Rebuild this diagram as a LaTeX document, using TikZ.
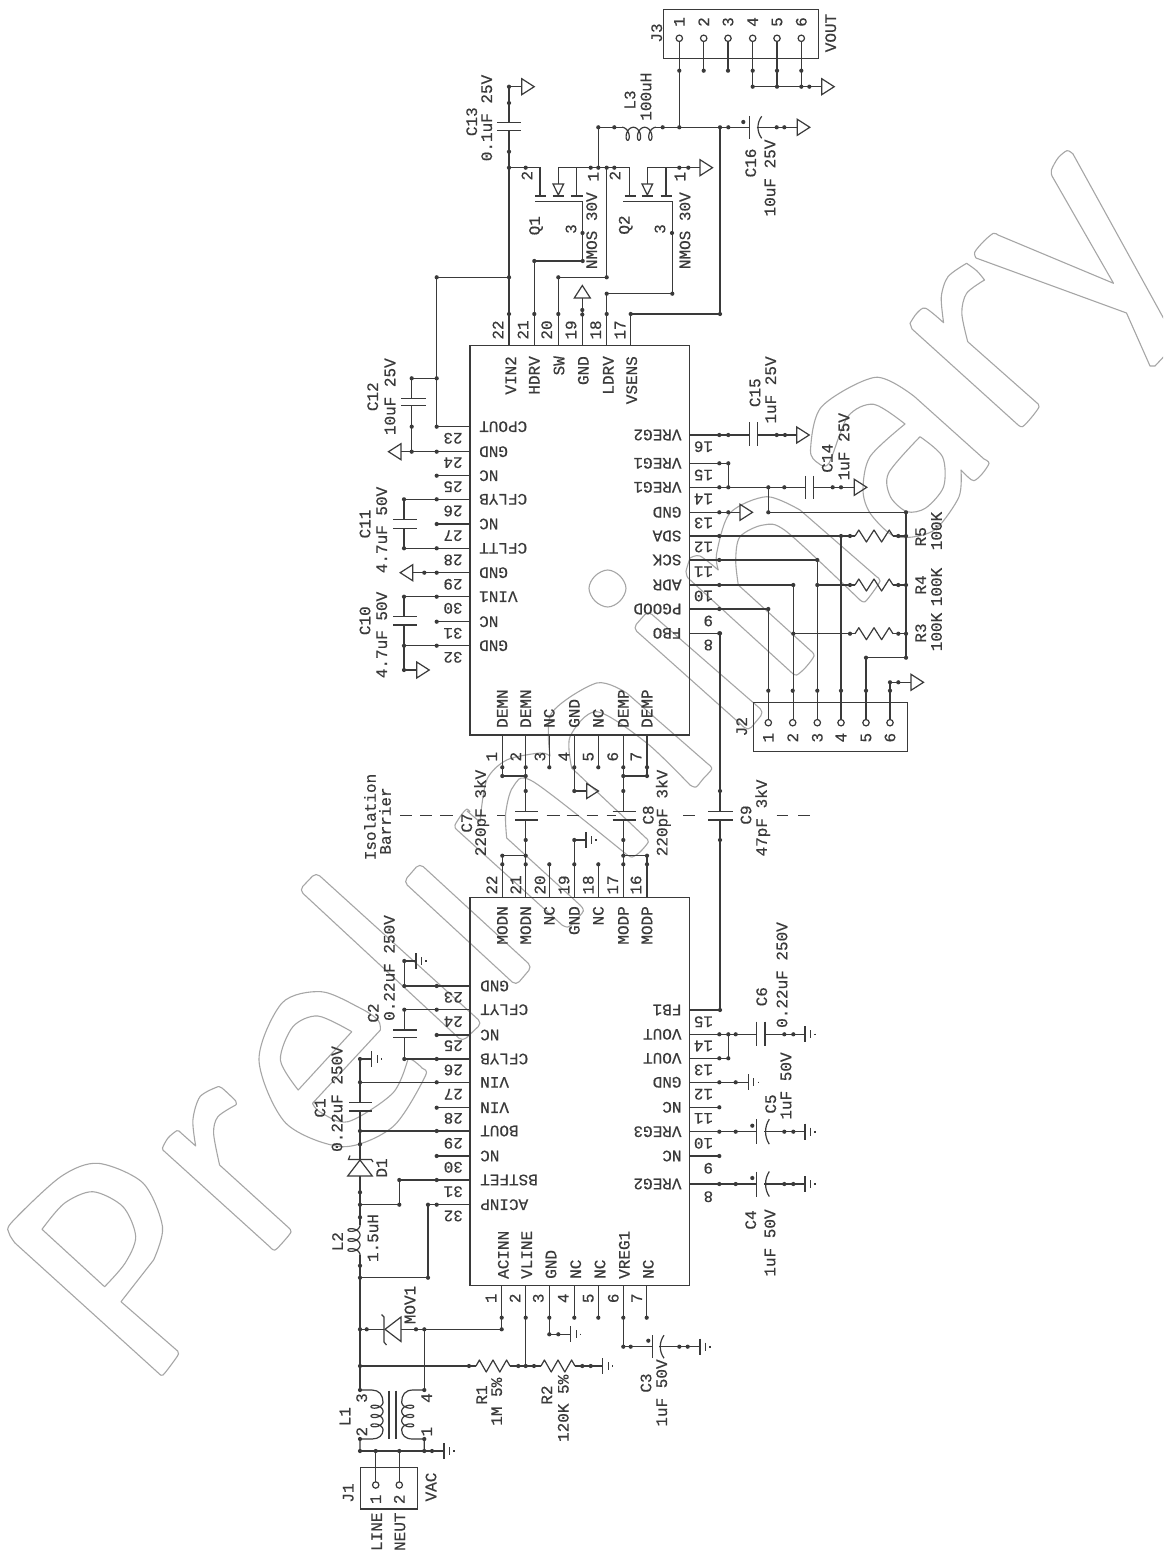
\documentclass[tikz,border=0pt]{standalone}
\usepackage{fontspec}
\newfontfamily\schem[FakeBold=0.4]{Liberation Mono}
\definecolor{ink}{HTML}{3A3A3A}
\definecolor{wmc}{HTML}{A6A6A6}
\newcounter{tn}
\tikzset{
  wire/.style={draw=ink,line width=1.2pt},
  wm/.style={draw=wmc,line width=1.1pt,line join=round},
  txt/.style={font=\schem\fontsize{16}{16}\selectfont,text=ink,inner sep=0pt},
  boxn/.style={draw=ink,line width=1.2pt,anchor=north west,inner sep=0pt,minimum width=#1},
}
% rotated text: up = reads upwards, dn = upside down
\newcommand\up[4][center]{\stepcounter{tn}\node[txt,rotate=90,anchor=#1] (t\arabic{tn}) at (#2,#3) {#4};}
\newcommand\dn[4][center]{\stepcounter{tn}\node[txt,rotate=180,anchor=#1] (t\arabic{tn}) at (#2,#3) {#4};}
\newcommand\jd[1]{\foreach \p in {#1}{\fill[ink] \p circle[radius=2.1pt];}}
\newcommand\W[1]{\draw[wire] #1;}
\newcommand\gndR[2]{\draw[wire] (#1,#2-8) -- (#1,#2+8) (#1+5.5,#2-4) -- (#1+5.5,#2+4) (#1+10,#2-.8) -- (#1+10,#2+.8);}
\newcommand\triR[2]{\draw[wire] (#1,#2-8) -- (#1+12.5,#2) -- (#1,#2+8) -- cycle;}
\newcommand\triL[2]{\draw[wire] (#1,#2-8) -- (#1-12.5,#2) -- (#1,#2+8) -- cycle;}
\newcommand\triU[2]{\draw[wire] (#1-8,#2) -- (#1,#2-12.5) -- (#1+8,#2) -- cycle;}
\newcommand\plH[3]{\draw[wire] (#1-#3,#2) -- (#1+#3,#2);}
\newcommand\plV[3]{\draw[wire] (#1,#2-#3) -- (#1,#2+#3);}
\newcommand\curv[3]{\draw[wire] (#1+5,#2-#3) .. controls (#1,#2-#3*.4) and (#1,#2+#3*.4) .. (#1+5,#2+#3);}
\newcommand\res[3]{\draw[wire,line join=round] (#1,#3) -- ({#1+.1*(#2-#1)},#3-6) -- ({#1+.3*(#2-#1)},#3+6) -- ({#1+.5*(#2-#1)},#3-6) -- ({#1+.7*(#2-#1)},#3+6) -- ({#1+.9*(#2-#1)},#3-6) -- (#2,#3);}
% horizontal coil, loops below
\newcommand\coilH[3]{\draw[wire] plot[domain=0:1080,samples=110,smooth] ({#1+(#2-#1)*(\x/1080)+4*sin(\x)},{#3+6.5*(1-cos(\x))});}
% vertical coil, loops to the left (#4 = +1) or right (#4 = -1)
\newcommand\coilV[5]{\draw[wire] plot[domain=0:1080,samples=110,smooth] ({#1-#4*#5*(1-cos(\x))},{#2+(#3-#2)*(\x/1080)+3.5*sin(\x)});}
\begin{document}
\begin{tikzpicture}[x=1pt,y=-1pt]
\useasboundingbox (0,0) rectangle (1163,1552);
\fill[white] (0,0) rectangle (1163,1552);

% ---------- watermark "Preliminary"
\begin{scope}
\clip (0,0) rectangle (1163,1552);
% P
\draw[wm] (121,1301.7) -- (176.5,1350) -- plot[smooth] coordinates {(176.5,1350)(178.5,1354)(171,1365)(163,1375)(160,1374.5)} -- (15,1243) -- plot[smooth] coordinates {(15,1243)(9,1233)(12,1222)(60.7,1176.7)(98,1163.3)(143,1183)(162.5,1226.7)(153.6,1260)} -- cycle;
\draw[wm] (42,1229.3) -- plot[smooth] coordinates {(42,1229.3)(64.3,1203.3)(92.9,1191.7)(123,1206.7)(135.7,1236.7)(125,1263.3)(104.6,1286.7)} -- cycle;
% r
\draw[wm] (164,1151) -- (270,1247) -- plot[smooth] coordinates {(270,1247)(275,1250)(284,1241)(291,1232)(289,1228)} -- (219.6,1165) -- plot[smooth] coordinates {(219.6,1165)(213.6,1133.3)(217.9,1116.7)(235.7,1105)} -- plot[smooth] coordinates {(235.7,1105)(235.7,1101)(222,1088)(217.9,1086.7)} -- plot[smooth] coordinates {(217.9,1086.7)(200,1096.7)(192.9,1120)(195.7,1146)} -- (180,1132) -- plot[smooth] coordinates {(180,1132)(176.8,1130.7)(168,1138)(162.5,1148)(164,1151)};
% e
\draw[wm] plot[smooth] coordinates {(380.4,1030)(378,1020)(360,1008)(321.4,991.7)(282,1003)(259,1060)(285.7,1123)(342.9,1146.7)(392.9,1126.7)(425,1076.7)(422,1068)(412.5,1060)(408,1059)} -- plot[smooth] coordinates {(408,1059)(392.9,1093)(348,1121.7)(320,1112)(312.5,1103.3)} -- cycle;
\draw[wm] (351.8,1031.7) -- (298.2,1090) -- plot[smooth] coordinates {(298.2,1090)(280.4,1060)(292.9,1026.7)(317.9,1016)(351.8,1031.7)};
% l
\draw[wm,rounded corners=5pt] (316,872.5) -- (299.3,890) -- (462.5,1041.5) -- (482,1023) -- cycle;
% i stem
\draw[wm,rounded corners=5pt] (419.6,863.3) -- (403.6,881.7) -- (516,985.5) -- (532,966.7) -- cycle;
% m
\draw[wm] plot[smooth] coordinates {(467,811)(480,822)} -- plot[smooth] coordinates {(480,822)(486.7,780)(506.7,760)(540,753)(550,756)} -- plot[smooth] coordinates {(550,756)(551.7,713)(596.7,683)(626.7,693)} -- (708,764) -- plot[smooth] coordinates {(708,764)(711.7,769)(703,779)(696,787)(690,785)} -- plot[smooth] coordinates {(690,785)(646.7,743)(596.7,711.7)(570,736.7)(571.7,768)} -- (646,838) -- plot[smooth] coordinates {(646,838)(648.3,842)(640,852)(632,857)(626,854)} -- plot[smooth] coordinates {(626,854)(533.3,781.7)(513,787)(505.7,813)(506.7,838)} -- (580,905) -- plot[smooth] coordinates {(580,905)(583.3,911)(575,921)(568,927)(562,925)} -- (456,829) -- plot[smooth] coordinates {(456,829)(455,825)(462,814)(467,809)(470,812)};
% i dot
\draw[wm] plot[smooth cycle,tension=.6] coordinates {(607.7,570)(620,576)(626,588.3)(620,601)(607.7,607)(595,601)(589,588.3)(595,576)};
% i stem 2
\draw[wm,rounded corners=5pt] (633,628) -- (648,611) -- (764,712) -- (748.3,731) -- cycle;
% n
\draw[wm] plot[smooth] coordinates {(690,558)(700,556)(718.3,570)} -- plot[smooth] coordinates {(718.3,570)(716.7,553)(730,513)(766.7,496.7)(800,510)} -- (877,577) -- plot[smooth] coordinates {(877,577)(880,581)(873,592)(865,601.7)(860,600)} -- plot[smooth] coordinates {(860,600)(786.7,531.7)(763.3,525)(740,536.7)(735.7,560)(738.3,585)} -- (811,651) -- plot[smooth] coordinates {(811,651)(814,656)(806,667)(796.7,675)(791,672)} -- (688,578) -- plot[smooth] coordinates {(688,578)(686,571.7)(690,558)};
% a
\draw[wm] (984,459) -- plot[smooth] coordinates {(984,459)(989,463.3)(982,474)(974,480.7)(968,477)(961,470)} -- plot[smooth] coordinates {(961,470)(959,496.7)(937,528)(914.6,536.7)(892,535)(870,513)(863,490)(870,456.7)(905,424)} -- plot[smooth] coordinates {(905,424)(873.7,404.3)(847.7,416.7)(829,463)(818,463)(810.5,450)(821.6,406.7)(875.5,377.3)(914.6,396.7)} -- cycle;
\draw[wm] (920,436.7) -- plot[smooth] coordinates {(920,436.7)(942.5,456.7)(943.6,486.7)(925.7,508)(907,511.7)(890.4,496.7)(888.6,473)(920,436.7)};
% r
\draw[wm] plot[smooth] coordinates {(910,323.3)(917,313)(925.7,308.3)(943.6,322.7)} -- plot[smooth] coordinates {(943.6,322.7)(941.3,296.7)(948,276.7)(966.6,263.3)} -- plot[smooth] coordinates {(966.6,263.3)(977,271)(984.5,280)} -- plot[smooth] coordinates {(984.5,280)(966.6,293.3)(961.8,313.3)(967.7,341.7)} -- (1037,403) -- plot[smooth] coordinates {(1037,403)(1039,407)(1031,418)(1022.4,426.7)(1017,424)} -- (912,329) -- (910,323.3);
% y
\draw[wm] plot[smooth] coordinates {(976,258)(974.8,252)(984,241)(993.4,233.3)(998,235)} -- (1113.5,283.3) -- (1052,176) -- plot[smooth] coordinates {(1052,176)(1051.4,170)(1058,158)(1067,150.7)(1073,154)} -- (1170,330);
\draw[wm] (1170,350) -- (1155,366) -- (1150,366) -- (1126.5,313) -- (976,258);
\end{scope}

% ---------- chips and connector boxes
\node[boxn=219.7pt,minimum height=389.3pt] (U1) at (469.3,345) {};
\node[boxn=219.7pt,minimum height=388.3pt] (U2) at (469.3,896.7) {};
\node[boxn=155pt,minimum height=48.7pt] (J3box) at (663,9) {};
\node[boxn=154pt,minimum height=49pt] (J2box) at (752.7,701.7) {};
\node[boxn=56.7pt,minimum height=41.7pt] (J1box) at (360,1466.7) {};

% ---------- J3
\up{656.7}{33}{J3}\up{830.7}{33}{VOUT}
\foreach \x/\n in {679.3/1,703.7/2,728/3,752.7/4,777/5,801.3/6}{
  \up{\x}{22}{\n}
  \draw[wire] (\x,38.3) circle[radius=3.2pt];
  \draw[wire] (\x,41.5) -- (\x,70.7);
  \jd{(\x,70.7)}
}
\W{(679.3,70.7) -- (679.3,127.3)}
\W{(752.7,70.7) -- (752.7,86.7) (777,70.7) -- (777,86.7) (801.3,70.7) -- (801.3,86.7)}
\W{(752.7,86.7) -- (821.7,86.7)}\triR{821.7}{86.7}
\jd{(752.7,86.7),(777,86.7),(801.3,86.7),(809.3,86.7)}

% ---------- C13
\triR{521.7}{86.7}
\W{(509,86.7) -- (521.7,86.7) (509,86.7) -- (509,122.7) (509,130.7) -- (509,345)}
\plH{509}{122.7}{12}\plH{509}{130.7}{12}
\jd{(509,86.7),(509,103),(509,151.7),(509,167.7),(509,277.3),(509,314)}
\up{471.7}{121.7}{C13}\up{486.7}{118}{0.1uF 25V}
\W{(509,277.3) -- (436.7,277.3) -- (436.7,426.7)}
\jd{(436.7,277.3)}

% ---------- L3, C16
\W{(598.3,127.3) -- (622,127.3) (656,127.3) -- (749.3,127.3)}
\coilH{622}{656}{127.3}
\up{630}{100}{L3}\up{646}{96.7}{100uH}
\jd{(598.3,127.3),(614.3,127.3),(662.7,127.3),(679.3,127.3),(720,127.3),(728.3,127.3)}
\plV{749.3}{127.3}{11.5}\curv{756.7}{127.3}{11}
\jd{(743.3,122)}
\W{(756.7,127.3) -- (797.3,127.3)}\triR{797.3}{127.3}
\jd{(776.7,127.3),(784.3,127.3)}
\up{750.7}{163}{C16}\up{770}{178}{10uF 25V}
\W{(598.3,127.3) -- (598.3,167.7) (509,167.7) -- (540,167.7) -- (540,196)}
\W{(720,127.3) -- (720,314) -- (630.7,314) -- (630.7,345)}
\jd{(720,314),(630.7,314)}

% ---------- Q1
\plH{540.5}{196}{5.5}
\W{(558.3,167.7) -- (558.3,184) (558.3,195) -- (558.3,196)}
\draw[wire] (553,184) -- (563.6,184) -- (558.3,195) -- cycle;
\plH{558.3}{196}{5.5}
\W{(576.7,167.7) -- (576.7,196)}\plH{576.7}{196}{5.8}
\W{(558.3,167.7) -- (629.3,167.7) -- (629.3,196)}
\W{(535,201.7) -- (582.7,201.7) -- (582.7,261) -- (534.3,261) -- (534.3,345)}
\jd{(525.7,167.7),(590.7,167.7),(598.3,167.7),(606.7,167.7),(614.3,167.7),(582.5,233),(582.7,261),(534.3,261),(534.3,314)}
\up{527}{175.7}{2}\up{593.3}{176.7}{1}\up{536}{225.7}{Q1}\up{571}{229}{3}\up{591.7}{230.7}{NMOS 30V}
\W{(606.7,167.7) -- (606.7,277.3) -- (558.3,277.3) -- (558.3,345)}
\jd{(606.7,277.3),(558.3,277.3),(558.3,314)}

% ---------- Q2
\plH{630}{196}{5.5}
\W{(647.3,167.7) -- (647.3,184)}
\draw[wire] (642,184) -- (652.6,184) -- (647.3,195) -- cycle;
\plH{647.3}{196}{5.5}
\W{(647.3,167.7) -- (700,167.7)}\triR{700}{167.7}
\W{(666,167.7) -- (666,196)}\plH{666.5}{196}{5.8}
\W{(623.3,201.7) -- (672.3,201.7) -- (672.3,293.7) -- (606.7,293.7) -- (606.7,345)}
\jd{(679.3,167.7),(688.3,167.7),(672,233),(672.3,293.7),(606.7,293.7),(606.7,314)}
\up{615}{175.7}{2}\up{680}{176.7}{1}\up{625.7}{225}{Q2}\up{660}{229}{3}\up{685}{230.7}{NMOS 30V}

% ---------- U1 top pins
\W{(582.3,298) -- (582.3,345)}\triU{582.3}{298}
\jd{(582.3,310),(582.3,314.5)}
\foreach \x/\n in {498/22,523/21,546.7/20,571/19,595.7/18,620/17}{\up{\x}{330}{\n}}
\foreach \x/\t in {510.7/VIN2,534.3/HDRV,559/SW,583.3/GND,608.3/LDRV,631.7/VSENS}{\up[east]{\x}{356}{\t}}

% ---------- U1 left pins
\foreach \y/\t in {426.7/CPOUT,451.7/GND,475.7/NC,499.3/CFLYB,524/NC,548.3/CFLTT,572.7/GND,596.7/VIN1,621.7/NC,645.7/GND}{
  \W{(469.3,\y) -- (436.7,\y)}\jd{(436.7,\y)}
  \dn[east]{479}{\y}{\t}
}
\foreach \y/\n in {438.3/23,462.7/24,486.7/25,511/26,535.7/27,560/28,584.3/29,608.3/30,633.3/31,657.3/32}{\dn{453}{\y}{\n}}
% C12
\W{(411.7,378.3) -- (436.7,378.3) (411.7,378.3) -- (411.7,398.3) (411.7,405.7) -- (411.7,451.7) (436.7,451.7) -- (401,451.7)}
\plH{413.3}{398.3}{12.3}\plH{413.3}{405.7}{12.3}\triL{401}{451.7}
\jd{(411.7,378.3),(436.7,378.3),(411.7,426.7),(411.7,451.7)}
\up{372.7}{396.7}{C12}\up{390}{396.7}{10uF 25V}
% C11
\W{(436.7,499.3) -- (404,499.3) -- (404,519.3) (404,528.3) -- (404,548.3) -- (436.7,548.3)}
\plH{405.3}{519.3}{12}\plH{405.3}{528.3}{12}
\jd{(404,499.3),(404,548.3)}
\up{365}{524}{C11}\up{381.7}{530}{4.7uF 50V}
% GND
\W{(436.7,572.7) -- (412.7,572.7)}\triL{412.7}{572.7}\jd{(424.3,572.7)}
% C10
\W{(436.7,596.7) -- (404,596.7) -- (404,616.7) (404,625) -- (404,670) -- (416.7,670) (404,645.7) -- (436.7,645.7)}
\plH{405.3}{616.7}{12}\plH{405.3}{625}{12}\triR{416.7}{670}
\jd{(404,596.7),(404,645.7),(404,670)}
\up{365}{620.7}{C10}\up{381.7}{635}{4.7uF 50V}

% ---------- between the chips
\foreach \x/\t in {502.3/DEMN,525.7/DEMN,549.3/NC,574.3/GND,598.3/NC,623.3/DEMP,647/DEMP}{
  \up[west]{\x}{728}{\t}
  \W{(\x,734.3) -- (\x,767.3)}\jd{(\x,767.3)}
}
\foreach \x/\n in {491.7/1,515.7/2,540/3,564/4,588.3/5,612.7/6,636/7}{\up{\x}{756.7}{\n}}
\foreach \x/\t in {502.3/MODN,525.7/MODN,549.3/NC,574.3/GND,598.3/NC,623.3/MODP,647/MODP}{
  \up[east]{\x}{906}{\t}
  \W{(\x,896.7) -- (\x,864.3)}\jd{(\x,864.3)}
}
\foreach \x/\n in {491.7/22,515.7/21,540/20,564/19,588.3/18,612.7/17,636/16}{\up{\x}{885}{\n}}
\W{(502.3,767.3) -- (502.3,776) -- (525.7,776) (525.7,767.3) -- (525.7,811.7) (525.7,820) -- (525.7,864.3) (502.3,855.7) -- (525.7,855.7) (502.3,855.7) -- (502.3,864.3)}
\plH{526.7}{811.7}{11.7}\plH{526.7}{820}{11.7}
\jd{(502.3,776),(525.7,776),(525.7,791),(525.7,840),(502.3,855.7),(525.7,855.7)}
\W{(647,767.3) -- (647,776) -- (623.3,776) (623.3,767.3) -- (623.3,811.7) (623.3,820) -- (623.3,864.3) (623.3,855.7) -- (647,855.7) -- (647,864.3)}
\plH{624.3}{811.7}{11.7}\plH{624.3}{820}{11.7}
\jd{(623.3,776),(647,776),(623.3,791),(623.3,840),(623.3,855.7),(647,855.7)}
\W{(574.3,767.3) -- (574.3,791) -- (586.7,791)}
\draw[wire] (586.7,783.5) -- (598.5,791) -- (586.7,798.5) -- cycle;
\jd{(574.3,791)}
\W{(574.3,864.3) -- (574.3,840) -- (586,840)}\gndR{586}{840}\jd{(574.3,840)}
\up{466.7}{823}{C7}\up{481.7}{813}{220pF 3kV}
\up{648.3}{815}{C8}\up{663.3}{813}{220pF 3kV}
% C9
\W{(689,633.3) -- (720,633.3) -- (720,811.7) (720,820) -- (720,1010) -- (689,1010)}
\plH{720.5}{811.7}{12.3}\plH{720.5}{820}{12.3}
\jd{(720,633.3),(720,791),(720,840),(720,1010)}
\up{746}{815}{C9}\up{762.7}{818}{47pF 3kV}
% isolation barrier
\foreach \a/\b in {400/411.7,420/431.7,440/453,497/505,546.7/560,566.7/579,586.7/598,606.7/616,683.3/695,776.7/788,798.3/810}{\W{(\a,815.7) -- (\b,815.7)}}
\up{370}{817}{Isolation}\up{385}{821}{Barrier}

% ---------- U1 right pins
\foreach \y/\t in {435/VREG2,463.3/VREG1,487.3/VREG1,512.3/GND,536/SDA,560/SCK,585/ADR,609/PGOOD,633.3/FBO}{
  \dn[west]{681.7}{\y}{\t}
  \W{(689,\y) -- (719.3,\y)}\jd{(719.3,\y)}
}
\foreach \y/\n in {446.7/16,475/15,499/14,523/13,547/12,571.7/11,596/10,621/9,645/8}{\dn[west]{713.3}{\y}{\n}}
% C15
\W{(689,435) -- (749.3,435) (757.3,435) -- (796.7,435)}\plV{749.3}{434}{12}\plV{757.3}{434}{12}\triR{796.7}{435}
\jd{(728.3,435),(776.7,435),(785,435)}
\up{755}{392.7}{C15}\up{770.7}{390}{1uF 25V}
% C14
\W{(719.3,463.3) -- (728.3,463.3) -- (728.3,487.3)}
\W{(719.3,487.3) -- (805.7,487.3) (813.3,487.3) -- (854.3,487.3)}\plV{805.7}{487.6}{11.7}\plV{813.3}{487.6}{11.7}\triR{854.3}{487.3}
\jd{(728.3,463.3),(728.3,487.3),(768.3,487.3),(784.3,487.3),(832.7,487.3),(841,487.3)}
\up{827.3}{458.3}{C14}\up{844}{446.7}{1uF 25V}
\W{(768.3,487.3) -- (768.3,512.3) -- (906,512.3) -- (906,657.7) -- (866,657.7) -- (866,719)}
\jd{(768.3,512.3),(906,512.3),(906,657.7),(866,657.7)}
% GND pin
\W{(719.3,512.3) -- (740,512.3)}\triR{740}{512.3}\jd{(728.3,512.3)}
% SDA, R5
\W{(719.3,536) -- (855,536) (893,536) -- (906,536)}\res{855}{893}{536}
\W{(841,536) -- (841,719)}
\jd{(841,536),(850,536),(898.3,536),(906,536)}
\up{920.7}{536.7}{R5}\up{936.5}{531}{100K}
% SCK
\W{(719.3,560) -- (817.3,560) -- (817.3,719)}\jd{(817.3,560)}
% ADR
\W{(719.3,585) -- (793.3,585) -- (793.3,719)}\jd{(793.3,585)}
\W{(817.3,585) -- (855,585) (893,585) -- (906,585)}\res{855}{893}{585}
\jd{(817.3,585),(850,585),(898.3,585),(906,585)}
\up{920.7}{585}{R4}\up{936.5}{587}{100K}
% PGOOD
\W{(719.3,609) -- (768.3,609) -- (768.3,719)}\jd{(768.3,609)}
% R3
\W{(793.3,633.7) -- (855,633.7) (893,633.7) -- (906,633.7)}\res{855}{893}{633.7}
\jd{(793.3,633.7),(850,633.7),(898.3,633.7),(906,633.7)}
\up{920.7}{633}{R3}\up{936.5}{632}{100K}
% J2
\foreach \x/\n in {768.3/1,792.7/2,817.3/3,841/4,866/5,890/6}{
  \up{\x}{737.7}{\n}
  \draw[wire] (\x,722.7) circle[radius=3.2pt];
  \jd{(\x,690.7)}
}
\W{(890,719.5) -- (890,682.3) -- (911,682.3)}\triR{911}{682.3}\jd{(890,682.3),(898.3,682.3)}
\up{741.7}{726.7}{J2}

% ---------- U2 left pins
\foreach \y/\t in {986/GND,1009.7/CFLYT,1035/NC,1059/CFLYB,1082.3/VIN,1107.7/VIN,1131/BOUT,1156/NC,1180/BSTFET,1204.7/ACINP}{
  \dn[east]{480}{\y}{\t}
  \W{(469.3,\y) -- (436.7,\y)}\jd{(436.7,\y)}
}
\foreach \y/\n in {997.3/23,1021.7/24,1045.7/25,1070/26,1094.3/27,1118.3/28,1143.3/29,1167.3/30,1191.7/31,1216/32}{\dn{453.3}{\y}{\n}}
\W{(436.7,986) -- (404.3,986) -- (404.3,961) -- (416,961)}\gndR{416}{961}\jd{(404.3,986),(404.3,961)}
\W{(436.7,1009.7) -- (404.3,1009.7) -- (404.3,1030) (404.3,1037.7) -- (404.3,1059)}
\W{(404.3,1059) -- (436.7,1059)}
\plH{405}{1030}{11.7}\plH{405}{1037.7}{11.7}\jd{(404.3,1009.7),(404.3,1059)}
\up{373.3}{1013}{C2}\up{389.3}{968}{0.22uF 250V}
% C1, D1, L2
\W{(371.7,1059) -- (360,1059) -- (360,1102.7) (360,1111) -- (360,1160)}
\gndR{371.7}{1059}
\W{(360,1082.3) -- (436.7,1082.3) (360,1131) -- (436.7,1131)}
\plH{360.7}{1102.7}{11.7}\plH{360.7}{1111}{11.7}
\jd{(360,1059),(360,1082.3),(360,1131),(360,1144.3)}
\up{320}{1108}{C1}\up{337}{1099}{0.22uF 250V}
\draw[wire] (360,1160) -- (347.7,1176) -- (372.3,1176) -- cycle;
\W{(350,1155.5) -- (348.5,1159.5) -- (371.5,1159.5) -- (373,1162)}
\W{(360,1176) -- (360,1225) (360,1255) -- (360,1390)}
\coilV{360}{1225}{1255}{1}{6}
\jd{(360,1192.3),(360,1204.7),(360,1217.3),(360,1265.7),(360,1277.7),(399.3,1204.7),(399.3,1180)}
\W{(360,1204.7) -- (399.3,1204.7) -- (399.3,1180) -- (436.7,1180)}
\W{(360,1277.7) -- (428,1277.7) -- (428,1204.7) -- (436.7,1204.7)}
\jd{(428,1277.7),(428,1204.7)}
\up{381.7}{1168}{D1}\up{337.5}{1241.7}{L2}\up{373}{1238}{1.5uH}

% ---------- U2 bottom pins
\foreach \x/\t in {503.3/ACINN,526.7/VLINE,551/GND,575.7/NC,600/NC,624.3/VREG1,648.3/NC}{\up[west]{\x}{1279}{\t}}
\foreach \x in {501.7,525.7,549.3,574.3,598.3,623.3,646.7}{\W{(\x,1285) -- (\x,1317.7)}\jd{(\x,1317.7)}}
\foreach \x/\n in {491/1,515/2,538.3/3,563.3/4,588.3/5,613.3/6,636.7/7}{\up{\x}{1298.3}{\n}}
% MOV1
\W{(501.7,1317.7) -- (501.7,1329.3) -- (401,1329.3) (384,1329.3) -- (360,1329.3)}
\draw[wire] (385,1329.3) -- (401,1317) -- (401,1341.5) -- cycle;
\W{(381.5,1314.5) -- (384,1317) -- (384,1342) -- (386.5,1345)}
\jd{(501.7,1329.3),(424.3,1329.3),(416,1329.3),(366.7,1329.3),(360,1329.3)}
\up{410}{1305}{MOV1}
\W{(424.3,1329.3) -- (424.3,1390)}
% R1 R2
\W{(360,1366) -- (476,1366) (510,1366) -- (541,1366) (575,1366) -- (602.7,1366) (525.7,1317.7) -- (525.7,1366)}
\res{476}{510}{1366}\res{541}{575}{1366}\gndR{602.7}{1366}
\jd{(360,1366),(469,1366),(518.3,1366),(525.7,1366),(534,1366),(582.3,1366),(590.7,1366)}
\up{481.7}{1395}{R1}\up{496.7}{1401.7}{1M 5\%}\up{546.7}{1395}{R2}\up{563.3}{1408.3}{120K 5\%}
% pin 3
\W{(549.3,1317.7) -- (549.3,1334.3) -- (570.7,1334.3)}\gndR{570.7}{1334.3}\jd{(549.3,1334.3),(558.3,1334.3)}
% C3
\W{(623.3,1317.7) -- (623.3,1346.7) -- (652.3,1346.7) (659,1346.7) -- (700,1346.7)}
\plV{652.3}{1346.7}{11.7}\curv{659}{1346.7}{11.5}\gndR{700}{1346.7}
\jd{(623.3,1346.7),(630.7,1346.7),(648.3,1340.7),(679.3,1346.7),(687.7,1346.7)}
\up{646}{1383}{C3}\up{661.7}{1393}{1uF 50V}

% ---------- U2 right pins
\foreach \y/\t in {1010/FB1,1034.3/VOUT,1058.3/VOUT,1082.3/GND,1107.3/NC,1131.7/VREG3,1156/NC,1184/VREG2}{\dn[west]{681.7}{\y}{\t}}
\foreach \y in {1034.3,1058.3,1082.3,1107.3,1131.7,1156,1184}{\W{(689,\y) -- (719.3,\y)}\jd{(719.3,\y)}}
\foreach \y/\n in {1021.7/15,1046/14,1070/13,1094.3/12,1118.3/11,1143.3/10,1168.3/9,1196.7/8}{\dn[west]{713.3}{\y}{\n}}
\W{(719.3,1034.3) -- (756.7,1034.3) (765,1034.3) -- (805,1034.3) (719.3,1058.3) -- (728.3,1058.3) -- (728.3,1034.3)}
\plV{756.7}{1033.7}{12}\plV{765}{1033.7}{12}\gndR{805}{1034.3}
\jd{(728.3,1034.3),(728.3,1058.3),(735.7,1034.3),(784.3,1034.3),(793.3,1034.3)}
\up{761.7}{996.7}{C6}\up{782}{975}{0.22uF 250V}
\W{(719.3,1082.3) -- (748.3,1082.3)}\gndR{748.3}{1082.3}\jd{(735.7,1082.3)}
\foreach \y in {1131.7,1184}{
  \W{(719.3,\y) -- (756.7,\y) (764.3,\y) -- (805,\y)}
  \plV{756.7}{\y}{12.5}\curv{764.3}{\y}{12.5}\gndR{805}{\y}
  \jd{(735.7,\y),(752.3,\y-6),(784.3,\y),(793.3,\y)}
}
\up{770.7}{1104}{C5}\up{786}{1086}{1uF 50V}
\up{750.7}{1220}{C4}\up{770}{1243}{1uF 50V}

% ---------- L1, J1
\W{(360,1390) -- (372,1390) .. controls (379,1390) and (383,1395) .. (383,1402)}
\coilV{383}{1402}{1430}{1}{6}
\W{(383,1430) .. controls (383,1435) and (379,1439) .. (372,1439) -- (360,1439) -- (360,1451)}
\W{(424.3,1390) -- (413,1390) .. controls (405,1390) and (401.7,1395) .. (401.7,1402)}
\coilV{401.7}{1402}{1430}{-1}{6}
\W{(401.7,1430) .. controls (401.7,1435) and (405,1439) .. (413,1439) -- (424.3,1439) -- (424.3,1451)}
\W{(389,1390.7) -- (389,1439) (396,1390.7) -- (396,1439)}
\W{(360,1451) -- (444,1451)}\gndR{444}{1451}
\jd{(360,1390),(424.3,1390),(360,1439),(424.3,1439),(360,1451),(375.7,1451),(399.3,1451),(424.3,1451),(432,1451)}
\W{(375.7,1451) -- (375.7,1481.8) (399.3,1451) -- (399.3,1481.8)}
\foreach \x/\n in {375.7/1,399.3/2}{
  \draw[wire] (\x,1485) circle[radius=3.2pt];
  \up{\x}{1499.3}{\n}
}
\up{361.7}{1398}{3}\up{361.7}{1431.7}{2}\up{426.7}{1398}{4}\up{426.7}{1431.7}{1}
\up{345}{1416.7}{L1}\up{348.3}{1493}{J1}\up{431}{1487}{VAC}
\up{376.7}{1531.7}{LINE}\up{400}{1531.7}{NEUT}
\end{tikzpicture}
\end{document}
